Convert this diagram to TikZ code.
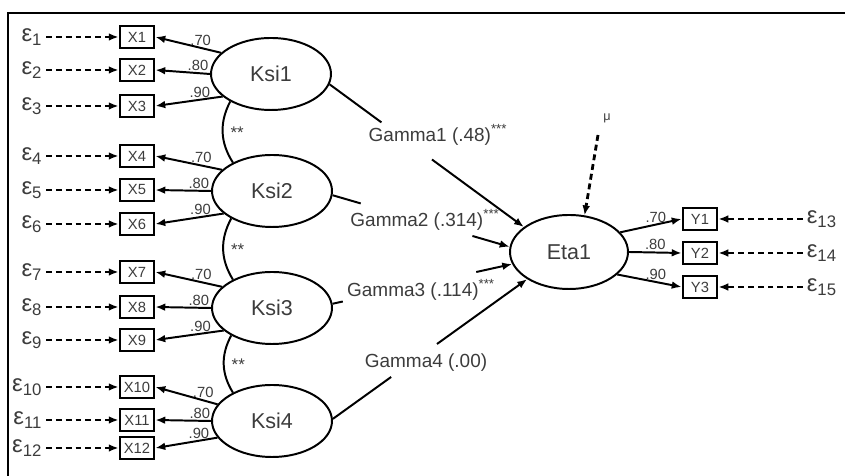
\documentclass[tikz,border=0pt]{standalone}
\usepackage{fontspec}
\setmainfont{Liberation Sans}
\usetikzlibrary{arrows.meta}
\usetikzlibrary{shapes.geometric}
\tikzset{>={Latex[length=7pt, width=5.5pt]}}
\definecolor{labelgray}{RGB}{60, 60, 60}
\tikzset{
	latent/.style={ellipse, draw, line width=1.4pt, minimum width=3cm, minimum height=1.8cm, inner sep=0pt, text=labelgray, font=\fontsize{15.3}{16}\selectfont},
	manifest/.style={rectangle, draw, line width=2pt, minimum width=0.85cm, minimum height=0.55cm, inner sep=0pt, text=labelgray, font=\fontsize{10.5}{11}\selectfont},
	errlabel/.style={inner sep=2.5pt, text=labelgray, font=\fontsize{17}{18}\selectfont},
	errline/.style={->, line width=2pt, dash pattern=on 4.2pt off 2.8pt},
	loadline/.style={->, line width=1.4pt},
	loadlabel/.style={inner sep=1pt, text=labelgray, font=\fontsize{10.5}{11}\selectfont},
	gammalabel/.style={text=labelgray, font=\fontsize{13.5}{14}\selectfont},
	covlabel/.style={inner sep=1pt, xshift=4pt, text=labelgray, font=\fontsize{12}{12}\selectfont}
}
\newcommand{\gammaline}[5]{% {name}{from}{to}{gap start}{gap end}
	\path (#2) -- (#3) coordinate[pos=#4] (#1-a) coordinate[pos=#5] (#1-b);
	\draw[line width=1.4pt] (#2) -- (#1-a); % part before the label
	\draw[loadline] (#1-b) -- (#3); % part after the label
}

\begin{document}
\begin{tikzpicture}
	\useasboundingbox (0,0) rectangle (21.125,11.9);
	\draw[line width=2pt] (0.2,0) -- (0.2,11.575) -- (21.125,11.575);

	% latent variables
	\node[latent] (ksi1) at (6.775,10.05) {Ksi1};
	\node[latent] (ksi2) at (6.8,7.125) {Ksi2};
	\node[latent] (ksi3) at (6.8,4.2) {Ksi3};
	\node[latent] (ksi4) at (6.8,1.375) {Ksi4};
	\node[latent, minimum width=2.95cm, minimum height=1.85cm] (eta1) at (14.225,5.6) {Eta1};

	% indicators
	\node[manifest] (x1) at (3.425,10.975) {X1};
	\node[manifest] (x2) at (3.425,10.15) {X2};
	\node[manifest] (x3) at (3.425,9.25) {X3};
	\node[manifest] (x4) at (3.425,8.0) {X4};
	\node[manifest] (x5) at (3.425,7.15) {X5};
	\node[manifest] (x6) at (3.425,6.3) {X6};
	\node[manifest] (x7) at (3.425,5.1) {X7};
	\node[manifest] (x8) at (3.425,4.225) {X8};
	\node[manifest] (x9) at (3.425,3.4) {X9};
	\node[manifest] (x10) at (3.425,2.225) {X10};
	\node[manifest] (x11) at (3.425,1.4) {X11};
	\node[manifest] (x12) at (3.425,0.7) {X12};
	\node[manifest] (y1) at (17.5,6.425) {Y1};
	\node[manifest] (y2) at (17.5,5.575) {Y2};
	\node[manifest] (y3) at (17.5,4.725) {Y3};

	% error terms
	\node[errlabel, anchor=east] (e1) at (1.15,10.975) {ε\textsubscript{1}};
	\node[errlabel, anchor=east] (e2) at (1.15,10.15) {ε\textsubscript{2}};
	\node[errlabel, anchor=east] (e3) at (1.15,9.25) {ε\textsubscript{3}};
	\node[errlabel, anchor=east] (e4) at (1.15,8.0) {ε\textsubscript{4}};
	\node[errlabel, anchor=east] (e5) at (1.15,7.15) {ε\textsubscript{5}};
	\node[errlabel, anchor=east] (e6) at (1.15,6.3) {ε\textsubscript{6}};
	\node[errlabel, anchor=east] (e7) at (1.15,5.1) {ε\textsubscript{7}};
	\node[errlabel, anchor=east] (e8) at (1.15,4.225) {ε\textsubscript{8}};
	\node[errlabel, anchor=east] (e9) at (1.15,3.4) {ε\textsubscript{9}};
	\node[errlabel, anchor=east] (e10) at (1.15,2.225) {ε\textsubscript{10}};
	\node[errlabel, anchor=east] (e11) at (1.15,1.4) {ε\textsubscript{11}};
	\node[errlabel, anchor=east] (e12) at (1.15,0.7) {ε\textsubscript{12}};
	\node[errlabel, anchor=west] (e13) at (20.075,6.425) {ε\textsubscript{13}};
	\node[errlabel, anchor=west] (e14) at (20.075,5.575) {ε\textsubscript{14}};
	\node[errlabel, anchor=west] (e15) at (20.075,4.725) {ε\textsubscript{15}};

	\draw[errline] (e1) -- (x1);
	\draw[errline] (e2) -- (x2);
	\draw[errline] (e3) -- (x3);
	\draw[errline] (e4) -- (x4);
	\draw[errline] (e5) -- (x5);
	\draw[errline] (e6) -- (x6);
	\draw[errline] (e7) -- (x7);
	\draw[errline] (e8) -- (x8);
	\draw[errline] (e9) -- (x9);
	\draw[errline] (e10) -- (x10);
	\draw[errline] (e11) -- (x11);
	\draw[errline] (e12) -- (x12);
	\draw[errline] (e13) -- (y1);
	\draw[errline] (e14) -- (y2);
	\draw[errline] (e15) -- (y3);

	% loadings
	\draw[loadline] (ksi1.157) -- node[loadlabel, pos=0.31, above] {.70} (x1.east);
	\draw[loadline] (ksi1.west) -- node[loadlabel, pos=0.22, above] {.80} (x2.east);
	\draw[loadline] (ksi1.205) -- node[loadlabel, pos=0.34, above] {.90} (x3.east);
	\draw[loadline] (ksi2.157) -- node[loadlabel, pos=0.31, above] {.70} (x4.east);
	\draw[loadline] (ksi2.west) -- node[loadlabel, pos=0.22, above] {.80} (x5.east);
	\draw[loadline] (ksi2.205) -- node[loadlabel, pos=0.34, above] {.90} (x6.east);
	\draw[loadline] (ksi3.157) -- node[loadlabel, pos=0.31, above] {.70} (x7.east);
	\draw[loadline] (ksi3.west) -- node[loadlabel, pos=0.22, above] {.80} (x8.east);
	\draw[loadline] (ksi3.205) -- node[loadlabel, pos=0.34, above] {.90} (x9.east);
	\draw[loadline] (ksi4.163) -- node[loadlabel, pos=0.23, above] {.70} (x10.east);
	\draw[loadline] (ksi4.west) -- node[loadlabel, pos=0.2, above] {.80} (x11.east);
	\draw[loadline] (ksi4.197) -- node[loadlabel, pos=0.3, above] {.90} (x12.east);
	\draw[loadline] (eta1.21) -- node[loadlabel, pos=0.58, above] {.70} (y1.west);
	\draw[loadline] (eta1.east) -- node[loadlabel, pos=0.5, above] {.80} (y2.west);
	\draw[loadline] (eta1.335) -- node[loadlabel, pos=0.6, above] {.90} (y3.west);

	% covariances
	\draw[line width=1.4pt] (ksi1.214) to[bend right=30] node[covlabel, right] {**} (ksi2.144);
	\draw[line width=1.4pt] (ksi2.214) to[bend right=30] node[covlabel, right] {**} (ksi3.144);
	\draw[line width=1.4pt] (ksi3.214) to[bend right=30] node[covlabel, right] {**} (ksi4.144);

	% structural paths
	\node[gammalabel] (g1lab) at (10.95,8.525) {Gamma1 (.48)\textsuperscript{***}};
	\node[gammalabel] (g2lab) at (10.625,6.4) {Gamma2 (.314)\textsuperscript{***}};
	\node[gammalabel] (g3lab) at (10.525,4.65) {Gamma3 (.114)\textsuperscript{***}};
	\node[gammalabel] (g4lab) at (10.65,2.825) {Gamma4 (.00)};
	\gammaline{g1}{ksi1.-10}{eta1.151}{0.267}{0.527}
	\gammaline{g2}{ksi2.-4}{eta1.175}{0.159}{0.79}
	\gammaline{g3}{ksi3.4}{eta1.192}{0.057}{0.8}
	\gammaline{g4}{ksi4.2}{eta1.213}{0.3}{0.536}

	% disturbance
	\node[text=labelgray, font=\fontsize{9}{10}\selectfont] (mu) at (15.175,8.95) {μ};
	\coordinate (mutail) at (14.95,8.525);
	\draw[errline] (mutail) -- (eta1.67);
\end{tikzpicture}
\end{document}
